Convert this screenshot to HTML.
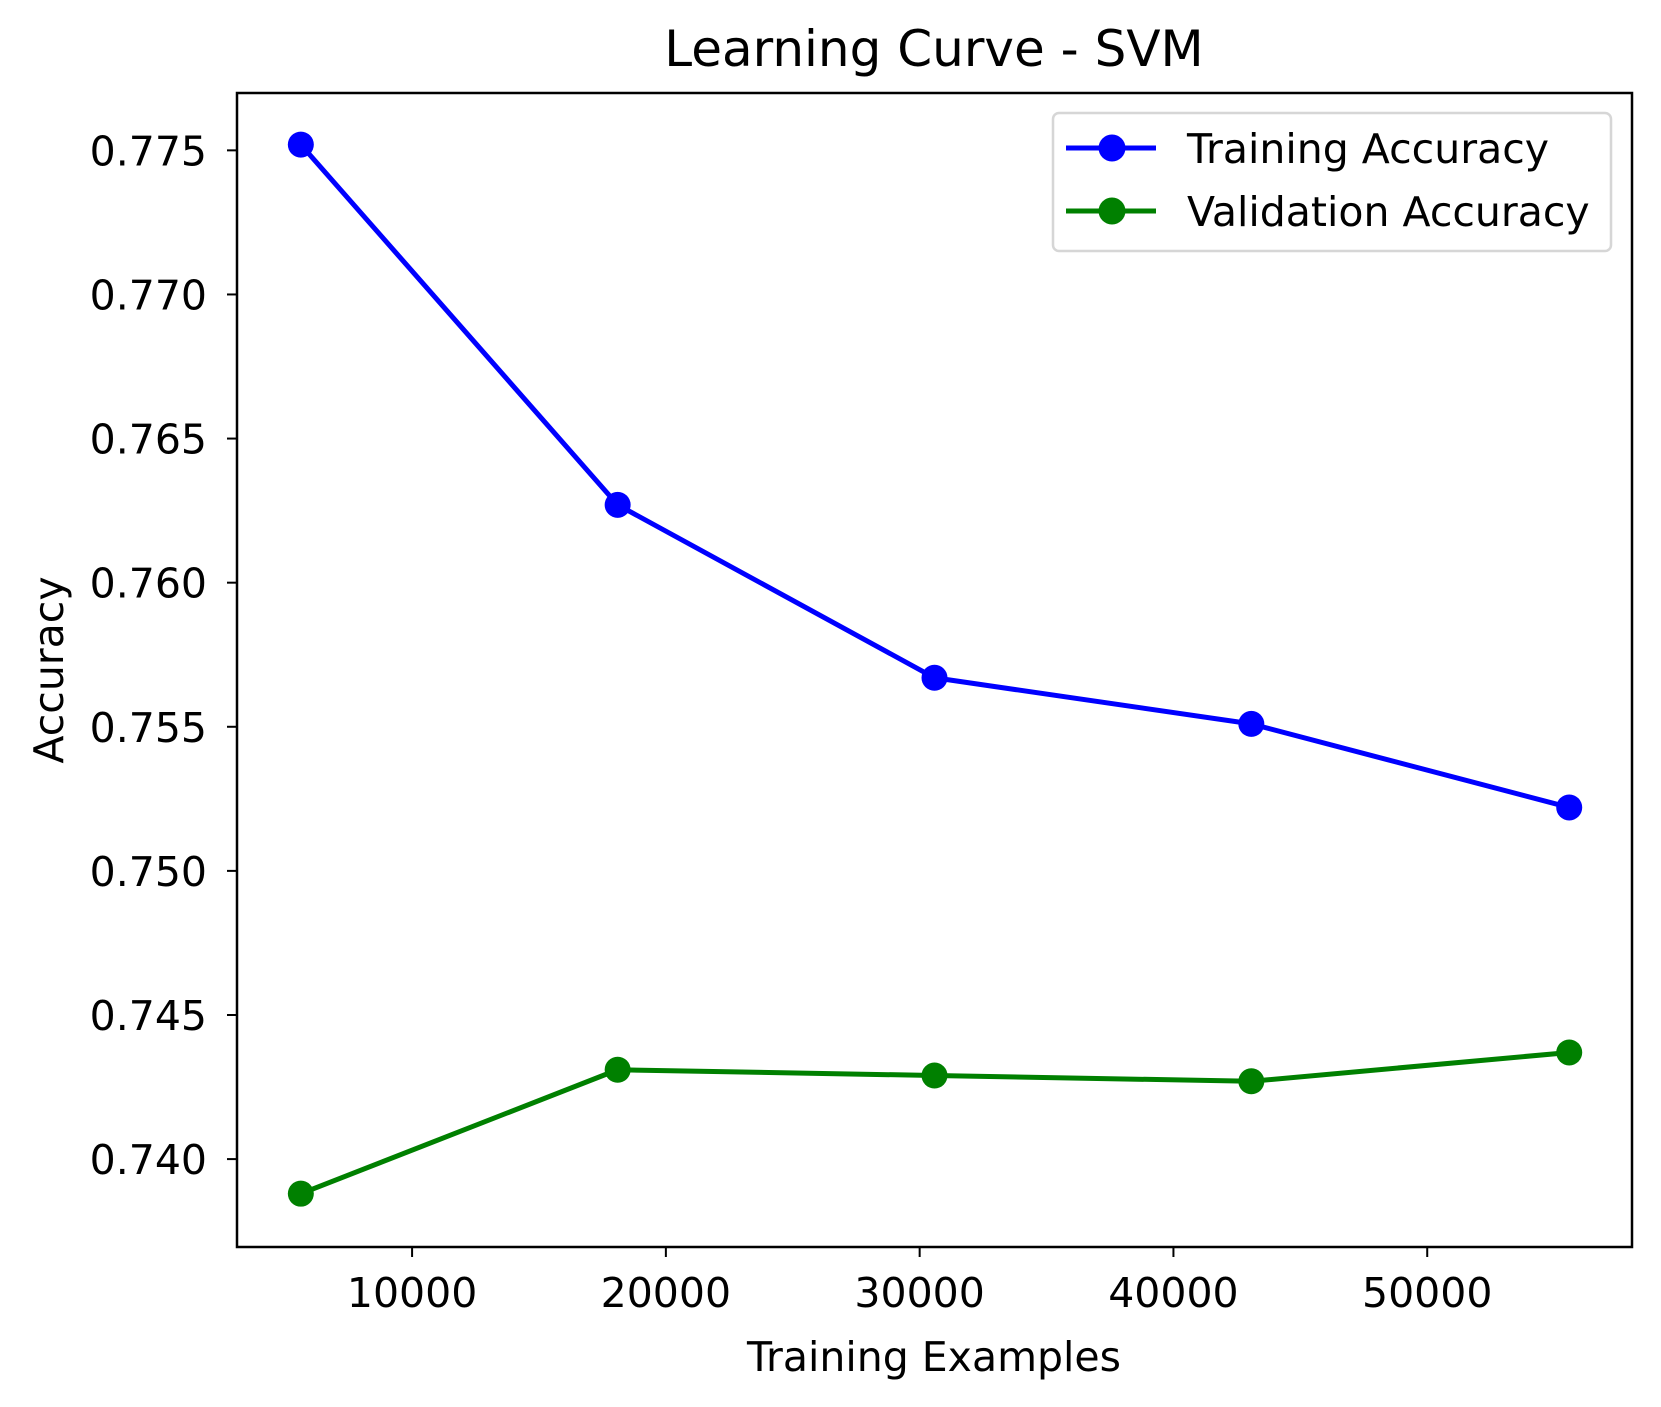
<!DOCTYPE html>
<html><head><meta charset="utf-8"><style>
body{margin:0;background:#fff}
svg{display:block;font-family:"DejaVu Sans","Liberation Sans",sans-serif}
</style></head><body>
<svg id="chart" width="1661" height="1407" viewBox="0 0 1661 1407">
<rect width="1661" height="1407" fill="#fff"/>
<text x="934" y="66" font-size="50" text-anchor="middle">Learning Curve - SVM</text>
<g id="axes"></g>
<text x="934" y="1371" font-size="41" text-anchor="middle">Training Examples</text>
<text transform="translate(63,670) rotate(-90)" font-size="41" text-anchor="middle">Accuracy</text>
<g id="legend">
<rect x="1053" y="113" width="558" height="138" rx="6" fill="#fff" stroke="#d6d6d6" stroke-width="2.5"/>
<g>
<line x1="1066" y1="148" x2="1156" y2="148" stroke="#0000ff" stroke-width="5"/>
<circle cx="1112" cy="148" r="13.5" fill="#0000ff"/>
<text x="1187" y="163" font-size="41">Training Accuracy</text></g>
<g>
<line x1="1066" y1="211" x2="1156" y2="211" stroke="#008000" stroke-width="5"/>
<circle cx="1112" cy="211" r="13.5" fill="#008000"/>
<text x="1187" y="226" font-size="41">Validation Accuracy</text></g>
</g>
</svg>
<script>
const trainSizes=[5616,18100,30585,43069,55595];
const trainAcc=[0.7752,0.7627,0.7567,0.7551,0.7522];
const valAcc=[0.7388,0.7431,0.7429,0.7427,0.7437];
const xTicks=[10000,20000,30000,40000,50000];
const yTicks=[0.740,0.745,0.750,0.755,0.760,0.765,0.770,0.775];
const L=237,R=1632,T=93,B=1247;
const xMin=3101,xMax=58069,yMin=0.73695,yMax=0.77699;
const sx=v=>L+(v-xMin)/(xMax-xMin)*(R-L);
const sy=v=>B-(v-yMin)/(yMax-yMin)*(B-T);
const NS="http://www.w3.org/2000/svg";
const g=document.getElementById('axes');
function mk(t,a,p){const e=document.createElementNS(NS,t);for(const k in a)e.setAttribute(k,a[k]);(p||g).appendChild(e);return e;}
xTicks.forEach(v=>{
 const t=mk('line',{x1:sx(v),x2:sx(v),y1:B,y2:B+10,stroke:'#000','stroke-width':2});
 
 
 const l=mk('text',{x:sx(v),y:B+60,'font-size':41,'text-anchor':'middle'});l.textContent=v;
 
 
});
yTicks.forEach(v=>{
 const t=mk('line',{x1:L-10,x2:L,y1:sy(v),y2:sy(v),stroke:'#000','stroke-width':2});
 
 
 const l=mk('text',{x:L-30,y:sy(v)+15,'font-size':41,'text-anchor':'end'});l.textContent=v.toFixed(3);
 
 
});
function series(vals,color,name){
 const pts=trainSizes.map((x,i)=>sx(x)+','+sy(vals[i])).join(' ');
 const pl=mk('polyline',{points:pts,fill:'none',stroke:color,'stroke-width':5,'stroke-linejoin':'round'});
 
 
 trainSizes.forEach((x,i)=>{
  const c=mk('circle',{cx:sx(x),cy:sy(vals[i]),r:13,fill:color});
  
  
 });
}
series(trainAcc,'#0000ff','training-accuracy');
series(valAcc,'#008000','validation-accuracy');
const fr=mk('rect',{x:L,y:T,width:R-L,height:B-T,fill:'none',stroke:'#000','stroke-width':2.5});


</script>
</body></html>
